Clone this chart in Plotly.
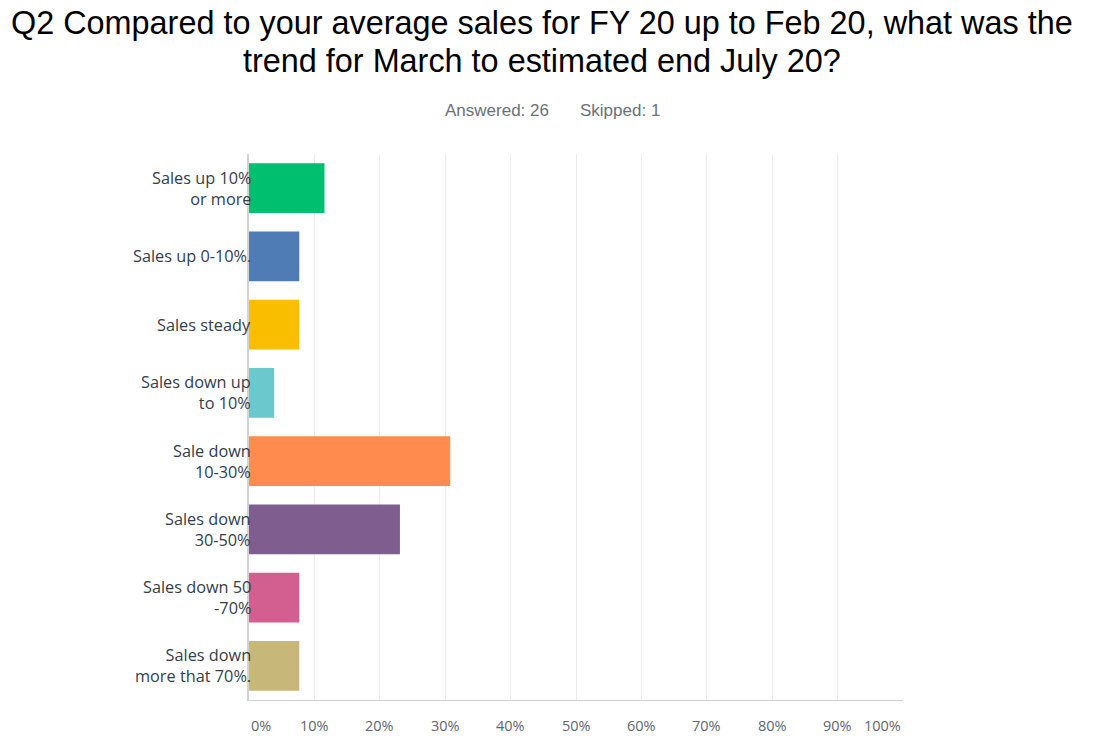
import plotly.graph_objects as go

categories = [
    "Sales up 10%<br>or more",
    "Sales up 0-10%.",
    "Sales steady",
    "Sales down up<br>to 10%",
    "Sale down<br>10-30%",
    "Sales down<br>30-50%",
    "Sales down 50<br>-70%",
    "Sales down<br>more that 70%.",
]
values = [11.54, 7.69, 7.69, 3.85, 30.77, 23.08, 7.69, 7.69]
colors = ["#00bf6f", "#507cb6", "#f9be00", "#6bc8cd", "#ff8b4f", "#7f5e8f", "#d25f90", "#c7b879"]
tick_vals = [0, 10, 20, 30, 40, 50, 60, 70, 80, 90, 100]
tick_text = ["0%", "10%", "20%", "30%", "40%", "50%", "60%", "70%", "80%", "90%", "100%"]

title_lines = ["Q2 Compared to your average sales for FY 20 up to Feb 20, what was the",
               "trend for March to estimated end July 20?"]

ids = list(range(len(categories)))

fig = go.Figure()
fig.add_trace(go.Bar(
    x=values, y=ids, orientation="h",
    marker=dict(color=colors, line=dict(width=0)),
    width=0.73, hoverinfo="skip",
))

annotations = []
for i, c in zip(ids, categories):
    annotations.append(dict(
        x=0, y=i, xref="x", yref="y", text=c, showarrow=False,
        xanchor="right", yanchor="middle", align="right", xshift=4,
        font=dict(family="Open Sans", size=16.3, color="#333e48"),
    ))
for v, t in zip(tick_vals, tick_text):
    anchor = "center"
    if v == 0:
        anchor = "left"
    elif v == 100:
        anchor = "right"
    annotations.append(dict(
        x=v, y=0, xref="x", yref="paper", text=t, showarrow=False,
        xanchor=anchor, yanchor="middle", yshift=-25,
        font=dict(family="Open Sans", size=14.5, color="#5f666d"),
    ))
annotations.append(dict(
    x=0.379, y=1.079, xref="paper", yref="paper", text="Answered: 26", showarrow=False,
    xanchor="center", yanchor="middle",
    font=dict(family="Liberation Sans", size=17, color="#6a7178"),
))
annotations.append(dict(
    x=0.567, y=1.079, xref="paper", yref="paper", text="Skipped: 1", showarrow=False,
    xanchor="center", yanchor="middle",
    font=dict(family="Liberation Sans", size=17, color="#6a7178"),
))
for line, ypos in zip(title_lines, [1.2399, 1.1703]):
    annotations.append(dict(
        x=0.448, y=ypos, xref="paper", yref="paper", text=line, showarrow=False,
        xanchor="center", yanchor="middle", align="center",
        font=dict(family="Liberation Sans", size=32.4, color="#000000"),
    ))

fig.update_layout(
    width=1104, height=740,
    margin=dict(l=249, r=201, t=154, b=40),
    paper_bgcolor="white", plot_bgcolor="white",
    showlegend=False,
    xaxis=dict(range=[0, 100], tickvals=tick_vals, showticklabels=False,
               showgrid=True, gridcolor="#ebebeb", gridwidth=1,
               zeroline=False, showline=True, linecolor="#d0d0d0", linewidth=1,
               fixedrange=True),
    yaxis=dict(range=[7.5, -0.5], showticklabels=False, showgrid=False,
               zeroline=False, showline=True, linecolor="#d3d3d3", linewidth=2,
               fixedrange=True),
    annotations=annotations,
)

fig.write_html("out.html")
